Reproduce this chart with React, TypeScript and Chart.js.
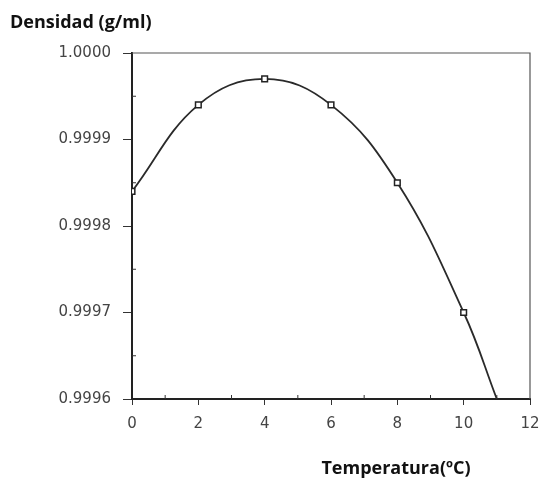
import React, { useEffect, useRef } from "react";
import { Chart, registerables } from "chart.js";

Chart.register(...registerables);

const temperatures = [0, 2, 4, 6, 8, 10, 11];
const densities = [0.99984, 0.99994, 0.99997, 0.99994, 0.99985, 0.9997, 0.9996];
const markerShown = [true, true, true, true, true, true, false];
const xTicks = [0, 2, 4, 6, 8, 10, 12];
const yTicks = [0.9996, 0.9997, 0.9998, 0.9999, 1.0];
const xMinor = [1, 3, 5, 7, 9, 11];
const yMinor = [0.99965, 0.99975, 0.99985, 0.99995];
const yTitle = "Densidad (g/ml)";
const xTitle = "Temperatura(ºC)";

const framePlugin = {
  id: "frame",
  afterDraw(chart: any) {
    const { ctx, chartArea, scales } = chart;
    const { left, right, top, bottom } = chartArea;
    ctx.save();
    ctx.strokeStyle = "#555";
    ctx.lineWidth = 1.2;
    ctx.beginPath();
    ctx.moveTo(left, top);
    ctx.lineTo(right, top);
    ctx.lineTo(right, bottom);
    ctx.stroke();
    ctx.strokeStyle = "#333";
    ctx.lineWidth = 1;
    ctx.beginPath();
    xMinor.forEach((v) => {
      const px = scales.x.getPixelForValue(v);
      ctx.moveTo(px, bottom);
      ctx.lineTo(px, bottom - 4);
    });
    yMinor.forEach((v) => {
      const py = scales.y.getPixelForValue(v);
      ctx.moveTo(left, py);
      ctx.lineTo(left + 4, py);
    });
    ctx.stroke();
    ctx.fillStyle = "#111";
    ctx.font = "bold 18px 'Open Sans', 'Liberation Sans', sans-serif";
    ctx.textAlign = "left";
    ctx.textBaseline = "middle";
    ctx.fillText(yTitle, 10, 23);
    ctx.textAlign = "center";
    ctx.fillText(xTitle, 396, 469);
    ctx.restore();
  },
};

export default function App() {
  const canvasRef = useRef<HTMLCanvasElement | null>(null);

  useEffect(() => {
    if (!canvasRef.current) return;
    const chart = new Chart(canvasRef.current, {
      type: "scatter",
      data: {
        datasets: [
          {
            data: temperatures.map((t, i) => ({ x: t, y: densities[i] })),
            showLine: true,
            tension: 0.4,
            borderColor: "#2a2a2a",
            borderWidth: 1.8,
            pointStyle: "rect",
            pointRadius: markerShown.map((m) => (m ? 4 : 0)),
            pointBackgroundColor: "#fff",
            pointBorderColor: "#222",
            pointBorderWidth: 1.5,
          } as any,
        ],
      },
      options: {
        animation: false,
        responsive: false,
        maintainAspectRatio: false,
        layout: { padding: { top: 53, left: 0, right: 10, bottom: 0 } },
        plugins: { legend: { display: false }, tooltip: { enabled: false }, title: { display: false } },
        scales: {
          x: {
            type: "linear",
            min: 0,
            max: 12,
            afterBuildTicks: (scale: any) => {
              scale.ticks = xTicks.map((v) => ({ value: v }));
            },
            afterFit: (scale: any) => {
              scale.height = 84;
              scale.paddingRight = 0;
              scale.paddingLeft = 0;
            },
            ticks: {
              color: "#444",
              font: { family: "'DejaVu Sans', sans-serif", size: 15 },
              padding: 10,
              maxRotation: 0,
              autoSkip: false,
            },
            grid: { drawOnChartArea: false, drawTicks: true, tickLength: 6, color: "#333" },
            border: { display: true, color: "#222", width: 2 },
          },
          y: {
            type: "linear",
            min: 0.9996,
            max: 1.0,
            afterBuildTicks: (scale: any) => {
              scale.ticks = yTicks.map((v) => ({ value: v }));
            },
            afterFit: (scale: any) => {
              scale.width = 132;
              scale.paddingTop = 0;
              scale.paddingBottom = 0;
            },
            ticks: {
              color: "#444",
              font: { family: "'DejaVu Sans', sans-serif", size: 15 },
              padding: 12,
              callback: (v: any) => Number(v).toFixed(4),
            },
            grid: { drawOnChartArea: false, drawTicks: true, tickLength: 9, color: "#333" },
            border: { display: true, color: "#222", width: 2 },
          },
        },
      },
      plugins: [framePlugin],
    });
    return () => chart.destroy();
  }, []);

  return (
    <div style={{ position: "fixed", left: 0, top: 0, width: 540, height: 483, background: "#fff" }}>
      <canvas ref={canvasRef} width={540} height={483} style={{ width: 540, height: 483 }} />
    </div>
  );
}
